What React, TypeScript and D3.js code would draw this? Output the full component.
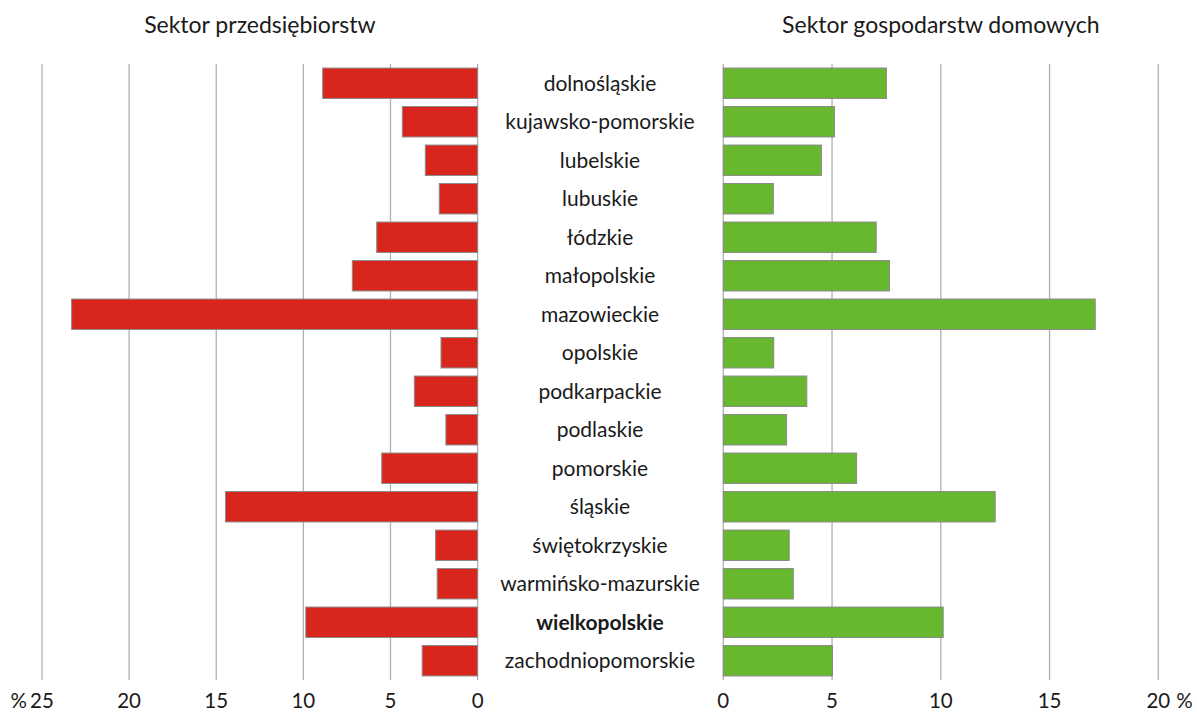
import React from "react";
import * as d3 from "d3";

const categories = [
  "dolnośląskie",
  "kujawsko-pomorskie",
  "lubelskie",
  "lubuskie",
  "łódzkie",
  "małopolskie",
  "mazowieckie",
  "opolskie",
  "podkarpackie",
  "podlaskie",
  "pomorskie",
  "śląskie",
  "świętokrzyskie",
  "warmińsko-mazurskie",
  "wielkopolskie",
  "zachodniopomorskie",
];
const enterprise = [8.89, 4.32, 3.0, 2.2, 5.79, 7.19, 23.3, 2.1, 3.63, 1.82, 5.5, 14.47, 2.41, 2.32, 9.86, 3.18];
const households = [7.5, 5.11, 4.51, 2.3, 7.03, 7.64, 17.1, 2.32, 3.84, 2.91, 6.13, 12.5, 3.03, 3.22, 10.11, 5.02];
const leftTicks = [25, 20, 15, 10, 5, 0];
const rightTicks = [0, 5, 10, 15, 20];
const highlighted = "wielkopolskie";
const leftTitle = "Sektor przedsiębiorstw";
const rightTitle = "Sektor gospodarstw domowych";

const W = 1197;
const H = 713;
const FONT = "Lato, 'Open Sans', sans-serif";

export default function App() {
  const xL = d3.scaleLinear().domain([0, 25]).range([477.6, 42]);
  const xR = d3.scaleLinear().domain([0, 20]).range([723.3, 1158.3]);
  const y = d3.scaleBand<string>().domain(categories).range([64, 680]).paddingInner(0.21).paddingOuter(0.105);
  const gridTop = 64;
  const gridBottom = 680;
  const red = "#D9261D";
  const green = "#67B82F";
  const stroke = "#8a8a8a";
  const grid = "#b0b0b0";
  const tickY = 708;

  return (
    <svg width={W} height={H} style={{ position: "absolute", left: 0, top: 0, background: "#fff" }} fontFamily={FONT}>
      {leftTicks.map((t) => (
        <line key={"gl" + t} x1={xL(t)} x2={xL(t)} y1={gridTop} y2={gridBottom} stroke={grid} strokeWidth={1.3} />
      ))}
      {rightTicks.map((t) => (
        <line key={"gr" + t} x1={xR(t)} x2={xR(t)} y1={gridTop} y2={gridBottom} stroke={grid} strokeWidth={1.3} />
      ))}
      {categories.map((c, i) => (
        <g key={c}>
          <rect
            x={xL(enterprise[i])}
            y={y(c)}
            width={xL(0) - xL(enterprise[i])}
            height={y.bandwidth()}
            fill={red}
            stroke={stroke}
            strokeWidth={1}
          />
          <rect
            x={xR(0)}
            y={y(c)}
            width={xR(households[i]) - xR(0)}
            height={y.bandwidth()}
            fill={green}
            stroke={stroke}
            strokeWidth={1}
          />
          <text
            x={600}
            y={(y(c) as number) + y.bandwidth() / 2}
            dy="0.35em"
            textAnchor="middle"
            fontSize={21}
            fontWeight={c === highlighted ? 700 : 400}
            fill="#1a1a1a"
          >
            {c}
          </text>
        </g>
      ))}
      {leftTicks.map((t) => (
        <text key={"tl" + t} x={xL(t)} y={tickY} textAnchor="middle" fontSize={20.5} fill="#1a1a1a">
          {t}
        </text>
      ))}
      <text x={xL(25) - 15} y={tickY} textAnchor="end" fontSize={20.5} fill="#1a1a1a">%</text>
      {rightTicks.map((t) => (
        <text key={"tr" + t} x={xR(t)} y={tickY} textAnchor="middle" fontSize={20.5} fill="#1a1a1a">
          {t}
        </text>
      ))}
      <text x={xR(20) + 18} y={tickY} textAnchor="start" fontSize={20.5} fill="#1a1a1a">%</text>
      <text x={(xL(0) + xL(25)) / 2} y={33} textAnchor="middle" fontSize={23} fill="#1a1a1a">
        {leftTitle}
      </text>
      <text x={(xR(0) + xR(20)) / 2} y={33} textAnchor="middle" fontSize={23} fill="#1a1a1a">
        {rightTitle}
      </text>
    </svg>
  );
}
